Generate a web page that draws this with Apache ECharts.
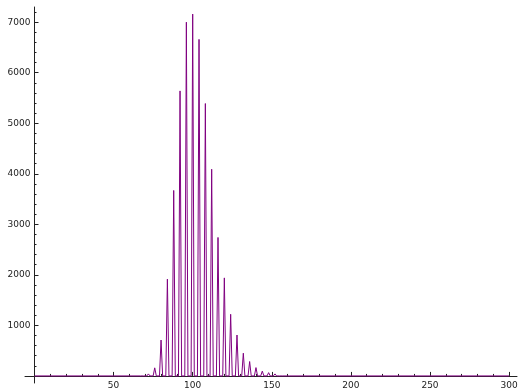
<!DOCTYPE html>
<html>
<head>
<meta charset="utf-8">
<script src="https://cdn.jsdelivr.net/npm/echarts@6/dist/echarts.min.js"></script>
<style>
  html, body { margin: 0; padding: 0; background: #fff; }
  #main { width: 519px; height: 388px; }
</style>
</head>
<body>
<div id="main"></div>
<script>
// spike positions and heights, zero elsewhere
var peakX = [68, 72, 76, 80, 84, 88, 92, 96, 100, 104, 108, 112, 116, 120, 124, 128, 132, 136, 140, 144, 148, 152, 156, 160];
var peakY = [8, 40, 160, 710, 1915, 3670, 5640, 7000, 7160, 6660, 5390, 4090, 2740, 1940, 1220, 810, 450, 285, 165, 95, 65, 40, 20, 10];
var xStart = 0;
var xEnd = 300;

var xMajor = [50, 100, 150, 200, 250, 300];
var xMinor = [10, 20, 30, 40, 60, 70, 80, 90, 110, 120, 130, 140, 160, 170, 180, 190,
  210, 220, 230, 240, 260, 270, 280, 290];
var yMajor = [1000, 2000, 3000, 4000, 5000, 6000, 7000];
var yMinor = [];
for (var v = 200; v <= 7200; v += 200) {
  if (v % 1000 !== 0) yMinor.push(v);
}

var lineData = [[xStart, 0]];
peakX.forEach(function (x, i) {
  lineData.push([x - 1, 0]);
  lineData.push([x, peakY[i]]);
  lineData.push([x + 1, 0]);
});
lineData.push([xEnd, 0]);

var W = 519, H = 388;
var grid = { left: 25, right: 2, top: 7, bottom: 5 };
var xRange = [-6, 305];
var yRange = [-140, 7300];

// the major-tick axes can't share onZero with the minor ones, so shift them onto the zero lines
var plotW = W - grid.left - grid.right;
var plotH = H - grid.top - grid.bottom;
var xZeroShift = plotW * (0 - xRange[0]) / (xRange[1] - xRange[0]);
var yZeroShift = plotH * (0 - yRange[0]) / (yRange[1] - yRange[0]);

var chart = echarts.init(document.getElementById('main'));

var axisColor = '#222';
var font = 'DejaVu Sans';

function xAxisOf(ticks, len, major) {
  return {
    type: 'value',
    min: xRange[0],
    max: xRange[1],
    position: 'bottom',
    offset: major ? -yZeroShift : 0,
    axisLine: { show: !major, onZero: !major, lineStyle: { color: axisColor, width: 1 } },
    axisTick: { show: true, inside: true, length: len, customValues: ticks, lineStyle: { color: axisColor } },
    axisLabel: {
      show: major,
      customValues: ticks,
      formatter: function (val) { return String(val); },
      margin: 5,
      color: axisColor,
      fontFamily: font,
      fontSize: 9
    },
    splitLine: { show: false }
  };
}

function yAxisOf(ticks, len, major) {
  return {
    type: 'value',
    min: yRange[0],
    max: yRange[1],
    position: 'left',
    offset: major ? -xZeroShift : 0,
    axisLine: { show: !major, onZero: !major, lineStyle: { color: axisColor, width: 1 } },
    axisTick: { show: true, inside: true, length: len, customValues: ticks, lineStyle: { color: axisColor } },
    axisLabel: {
      show: major,
      customValues: ticks,
      formatter: function (val) { return String(val); },
      margin: 4,
      color: axisColor,
      fontFamily: font,
      fontSize: 9
    },
    splitLine: { show: false }
  };
}

var option = {
  animation: false,
  grid: {
    left: grid.left, right: grid.right, top: grid.top, bottom: grid.bottom,
    containLabel: false, outerBoundsMode: 'none'
  },
  xAxis: [xAxisOf(xMinor, 2, false), xAxisOf(xMajor, 4, true)],
  yAxis: [yAxisOf(yMinor, 2, false), yAxisOf(yMajor, 4, true)],
  series: [{
    type: 'line',
    data: lineData,
    xAxisIndex: 0,
    yAxisIndex: 0,
    showSymbol: false,
    lineStyle: { color: '#800080', width: 1 },
    z: 3
  }]
};

chart.setOption(option);
window.addEventListener('resize', function () { chart.resize(); });
</script>
</body>
</html>
